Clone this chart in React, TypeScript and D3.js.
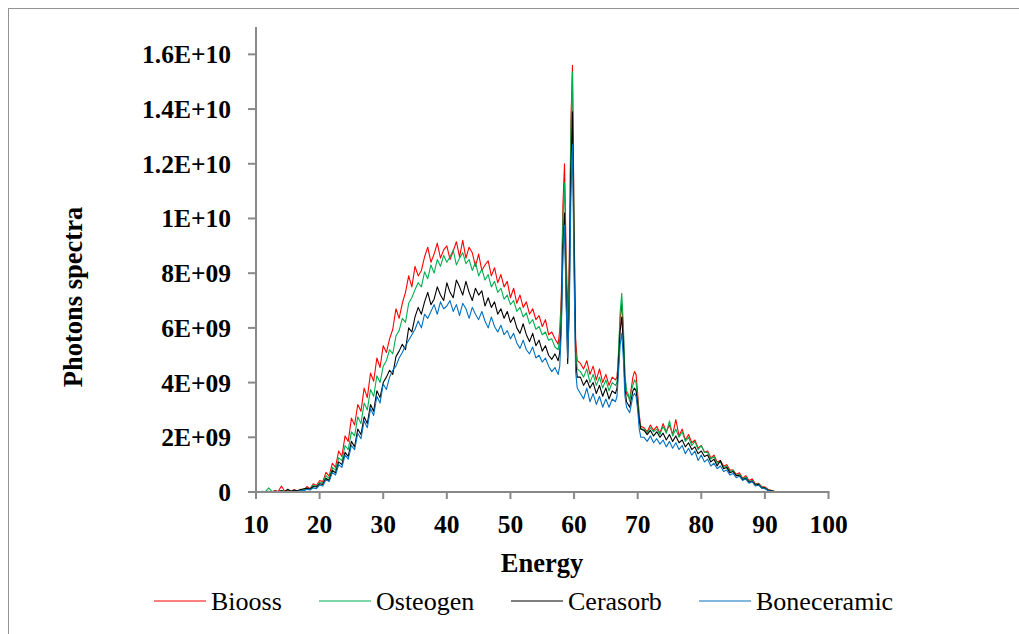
import * as d3 from "d3";

// Energy grid (keV); finer steps around the characteristic peaks
const ENERGY = [
  10, 10.5, 11, 11.5, 12, 12.5, 13, 13.5, 14, 14.5,
  15, 15.5, 16, 16.5, 17, 17.5, 18, 18.5, 19, 19.5,
  20, 20.5, 21, 21.5, 22, 22.5, 23, 23.5, 24, 24.5,
  25, 25.5, 26, 26.5, 27, 27.5, 28, 28.5, 29, 29.5,
  30, 30.5, 31, 31.5, 32, 32.5, 33, 33.5, 34, 34.5,
  35, 35.5, 36, 36.5, 37, 37.5, 38, 38.5, 39, 39.5,
  40, 40.5, 41, 41.5, 42, 42.5, 43, 43.5, 44, 44.5,
  45, 45.5, 46, 46.5, 47, 47.5, 48, 48.5, 49, 49.5,
  50, 50.5, 51, 51.5, 52, 52.5, 53, 53.5, 54, 54.5,
  55, 55.5, 56, 56.5, 57, 57.5,
  57.75, 58, 58.25, 58.5, 58.75, 59, 59.25, 59.5, 59.75, 60, 60.25, 60.5,
  61, 61.5, 62, 62.5, 63, 63.5, 64, 64.5, 65, 65.5, 66, 66.5,
  66.75, 67, 67.25, 67.5, 67.75, 68, 68.25, 68.5, 68.75, 69, 69.25, 69.5, 69.75, 70, 70.25, 70.5,
  71, 71.5, 72, 72.5, 73, 73.5, 74, 74.5, 75, 75.5,
  76, 76.5, 77, 77.5, 78, 78.5, 79, 79.5, 80, 80.5,
  81, 81.5, 82, 82.5, 83, 83.5, 84, 84.5, 85, 85.5,
  86, 86.5, 87, 87.5, 88, 88.5, 89, 89.5, 90, 90.5,
  91, 91.5, 92, 92.5, 93, 93.5, 94, 94.5, 95, 95.5,
  96, 96.5, 97, 97.5, 98, 98.5, 99, 99.5, 100,
];

// photon counts in units of 1E+09
const BIOOSS = [
  0, 0.01, 0.02, 0, 0.03, 0.01, 0.05, 0.02, 0.22, 0.03,
  0.05, 0.02, 0.09, 0.04, 0.1, 0.07, 0.2, 0.12, 0.3, 0.24,
  0.42, 0.38, 0.72, 0.58, 1.05, 0.9, 1.5, 1.3, 2.05, 1.85,
  2.7, 2.45, 3.2, 2.95, 3.8, 3.45, 4.35, 4.05, 4.9, 4.55,
  5.35, 5.1, 5.6, 5.95, 6.7, 6.35, 6.9, 7.3, 7.9, 7.5,
  8.25, 7.9, 8.1, 8.6, 8.95, 8.4, 8.7, 9.1, 8.55, 8.85,
  9.0, 8.5, 8.8, 9.15, 8.6, 9.2, 8.55, 8.95, 8.75, 8.25,
  8.7, 8.1, 8.3, 8.45, 7.9, 8.2, 7.65, 7.95, 7.5, 7.7,
  7.1, 7.45, 6.9, 7.2, 6.75, 6.95, 6.5, 6.7, 6.3, 6.45,
  6.05, 6.3, 5.75, 5.85, 5.6, 5.4,
  5.9, 7.2, 10.5, 12.0, 8.8, 6.5, 8.5, 13.5, 15.6, 10.0, 5.6, 4.8,
  4.7, 4.5, 4.8, 4.3, 4.6, 4.1, 4.5, 4.0, 4.3, 3.9, 4.2, 4.1,
  4.2, 5.0, 6.3, 6.9, 5.8, 4.2, 3.6, 3.5, 3.4, 3.8, 4.2, 4.4, 4.3, 3.6, 2.8, 2.4,
  2.35, 2.2, 2.45, 2.25, 2.4, 2.15, 2.5, 2.2, 2.45, 2.1,
  2.65, 2.05, 2.3, 1.9, 2.1, 1.8, 1.9, 1.6, 1.7, 1.45,
  1.5, 1.25, 1.35, 1.1, 1.15, 0.95, 1.0, 0.8, 0.8, 0.65,
  0.7, 0.5, 0.6, 0.42, 0.48, 0.3, 0.32, 0.2, 0.18, 0.1,
  0.06, 0.03, 0.02, 0.01, 0.01, 0, 0.01, 0, 0.02, 0,
  0.01, 0, 0.02, 0, 0.01, 0, 0.01, 0, 0,
];

const OSTEOGEN = [
  0, 0.01, 0.03, 0.01, 0.15, 0.02, 0.03, 0.01, 0.05, 0.02,
  0.04, 0.03, 0.06, 0.04, 0.09, 0.06, 0.15, 0.11, 0.25, 0.2,
  0.35, 0.33, 0.6, 0.5, 0.9, 0.8, 1.25, 1.15, 1.7, 1.55,
  2.2, 2.05, 2.75, 2.5, 3.25, 3.0, 3.75, 3.5, 4.25, 4.0,
  4.6, 4.8, 5.2, 5.05, 5.7, 5.9, 6.35, 6.2, 6.9, 7.1,
  7.4, 7.65, 7.5, 8.05, 7.8, 8.3, 8.0, 8.5, 8.25, 8.65,
  8.4, 8.6, 8.85, 8.3, 8.55, 8.75, 8.35, 8.5, 8.1, 8.4,
  7.9, 8.15, 7.75, 7.95, 7.5, 7.7, 7.3, 7.45, 7.05, 7.2,
  6.85, 7.0, 6.6, 6.75, 6.4, 6.55, 6.15, 6.3, 5.95, 6.05,
  5.75, 5.85, 5.55, 5.6, 5.3, 5.2,
  5.6, 6.9, 10.0, 11.3, 8.2, 5.6, 8.0, 13.2, 15.35, 9.6, 5.2, 4.5,
  4.4, 4.2, 4.5, 4.0, 4.3, 3.9, 4.2, 3.8, 4.1, 3.7, 4.0, 3.9,
  4.0, 5.2, 6.6, 7.26, 6.1, 4.3, 3.7, 3.6, 3.3, 3.7, 3.9, 4.1, 4.0, 3.4, 2.7, 2.3,
  2.3, 2.15, 2.35, 2.2, 2.3, 2.1, 2.4, 2.15, 2.6, 2.05,
  2.3, 2.0, 2.2, 1.85, 2.0, 1.7, 1.85, 1.55, 1.7, 1.45,
  1.45, 1.2, 1.3, 1.05, 1.1, 0.9, 0.95, 0.75, 0.8, 0.6,
  0.65, 0.48, 0.55, 0.38, 0.42, 0.28, 0.3, 0.18, 0.15, 0.08,
  0.05, 0.02, 0.02, 0, 0.01, 0, 0.01, 0.02, 0, 0,
  0.01, 0, 0.01, 0.02, 0, 0.01, 0, 0, 0,
];

const CERASORB = [
  0, 0.01, 0.01, 0, 0.02, 0.01, 0.03, 0.02, 0.04, 0.02,
  0.1, 0.03, 0.06, 0.04, 0.08, 0.12, 0.14, 0.1, 0.2, 0.18,
  0.3, 0.28, 0.5, 0.42, 0.8, 0.7, 1.1, 1.0, 1.45, 1.3,
  1.85, 1.65, 2.3, 2.1, 2.75, 2.5, 3.2, 2.95, 3.7, 3.45,
  4.0, 4.2, 4.45, 4.3, 4.95, 5.15, 5.4, 5.2, 6.0, 5.85,
  6.4, 6.75, 6.5, 6.95, 7.3, 6.85, 7.05, 7.5, 7.2, 7.0,
  7.65, 7.3, 7.1, 7.75, 7.5, 7.2, 7.7, 7.3, 7.0, 7.45,
  7.2, 7.35, 6.8, 7.1, 6.75, 6.95, 6.5, 6.7, 6.35, 6.6,
  6.2, 6.4, 6.0, 5.8, 6.15, 5.75, 5.5, 5.8, 5.35, 5.55,
  5.15, 5.35, 5.0, 4.85, 5.05, 4.8,
  5.1, 6.2, 9.0, 10.2, 7.3, 4.7, 7.0, 11.8, 13.9, 8.8, 4.8, 4.2,
  4.2, 3.9, 4.1, 3.8, 4.0, 3.6, 3.9, 3.5, 3.8, 3.4, 3.7, 3.6,
  3.8, 4.7, 5.9, 6.4, 5.4, 3.8, 3.3, 3.2, 3.1, 3.4, 3.7, 3.8, 3.7, 3.2, 2.6, 2.3,
  2.25, 2.1, 2.25, 2.05, 2.2, 2.0, 2.15, 1.9, 2.1, 1.85,
  2.05, 1.8, 1.9, 1.65, 1.8, 1.55, 1.65, 1.4, 1.5, 1.3,
  1.35, 1.1, 1.2, 0.95, 1.15, 0.85, 0.9, 0.7, 0.75, 0.6,
  0.6, 0.45, 0.5, 0.35, 0.4, 0.25, 0.28, 0.15, 0.14, 0.06,
  0.04, 0.02, 0.01, 0, 0.01, 0, 0, 0.01, 0, 0,
  0, 0.01, 0, 0, 0.01, 0, 0, 0.01, 0,
];

const BONECERAMIC = [
  0, 0, 0.01, 0, 0.02, 0.01, 0.02, 0, 0.03, 0.01,
  0.02, 0.01, 0.03, 0.02, 0.05, 0.04, 0.1, 0.07, 0.15, 0.12,
  0.25, 0.22, 0.45, 0.38, 0.72, 0.62, 1.0, 0.9, 1.35, 1.2,
  1.7, 1.55, 2.15, 1.95, 2.6, 2.35, 3.05, 2.8, 3.5, 3.25,
  3.95, 3.75, 4.2, 4.45, 4.6, 4.9, 5.1, 5.35, 5.55, 5.75,
  5.95, 6.25, 6.0, 6.5, 6.35, 6.6, 6.85, 6.5, 6.95, 6.7,
  6.8, 7.0, 6.6, 6.85, 6.45, 6.9, 6.7, 6.35, 6.75, 6.5,
  6.3, 6.6, 6.25, 6.0, 6.4, 6.05, 5.85, 6.1, 5.75, 5.9,
  5.6, 5.8, 5.45, 5.25, 5.55, 5.2, 5.05, 5.3, 4.9, 5.0,
  4.75, 4.9, 4.6, 4.4, 4.55, 4.3,
  4.6, 5.9, 8.6, 9.75, 6.9, 4.9, 6.6, 10.8, 12.7, 8.0, 4.4, 3.8,
  3.6, 3.4, 3.8, 3.3, 3.6, 3.2, 3.5, 3.1, 3.4, 3.1, 3.4, 3.3,
  3.5, 4.4, 5.4, 5.8, 4.9, 3.5, 3.1, 3.0, 2.9, 3.2, 3.5, 3.6, 3.5, 3.0, 2.3, 2.0,
  2.0, 1.85, 2.05, 1.8, 1.95, 1.75, 1.9, 1.65, 1.85, 1.6,
  1.8, 1.55, 1.7, 1.4, 1.6, 1.35, 1.5, 1.15, 1.35, 1.1,
  1.2, 0.95, 1.05, 0.85, 0.95, 0.75, 0.8, 0.62, 0.68, 0.52,
  0.58, 0.42, 0.48, 0.32, 0.38, 0.22, 0.25, 0.14, 0.12, 0.05,
  0.03, 0.01, 0.01, 0, 0, 0.01, 0, 0, 0.01, 0,
  0, 0, 0.01, 0, 0, 0, 0.01, 0, 0,
];

const SERIES_NAMES = ["Biooss", "Osteogen", "Cerasorb", "Boneceramic"];
const SERIES_VALUES = [BIOOSS, OSTEOGEN, CERASORB, BONECERAMIC];
const SERIES_COLORS = ["#ff0000", "#00b050", "#000000", "#0070c0"];

const X_TICKS = [10, 20, 30, 40, 50, 60, 70, 80, 90, 100];
const Y_TICKS = [0, 2, 4, 6, 8, 10, 12, 14, 16];
const Y_TICK_LABELS = ["0", "2E+09", "4E+09", "6E+09", "8E+09", "1E+10", "1.2E+10", "1.4E+10", "1.6E+10"];

const W = 1019;
const H = 634;
const FONT = "'Liberation Serif', 'Times New Roman', serif";
const AXIS_GREY = "#898989";

// legend item x positions (line start)
const LEGEND_X = [154, 319, 511, 699];

export default function App() {
  const x = d3.scaleLinear().domain([10, 100]).range([256, 828.5]);
  const y = d3.scaleLinear().domain([0, 17]).range([492, 27]);

  const line = d3
    .line<number>()
    .x((_, i) => x(ENERGY[i]))
    .y((v) => y(v));

  return (
    <svg
      width={W}
      height={H}
      style={{ position: "absolute", left: 0, top: 0, background: "#fff" }}
      fontFamily={FONT}
    >
      {/* chart frame */}
      <rect x={8.5} y={8.5} width={1100} height={700} fill="#fff" stroke="#939393" strokeWidth={1} />

      {/* series */}
      {SERIES_VALUES.map((vals, k) => (
        <path
          key={SERIES_NAMES[k]}
          d={line(vals.slice(0, ENERGY.length)) ?? ""}
          fill="none"
          stroke={SERIES_COLORS[k]}
          strokeWidth={1.1}
          strokeLinejoin="round"
        />
      ))}

      {/* y axis */}
      <line x1={256} x2={256} y1={y(17)} y2={y(0) + 6} stroke={AXIS_GREY} strokeWidth={2} />
      {Y_TICKS.map((t, i) => (
        <g key={t}>
          <line x1={248} x2={256} y1={y(t)} y2={y(t)} stroke={AXIS_GREY} strokeWidth={2} />
          <text
            x={231}
            y={y(t) + 9}
            textAnchor="end"
            fontSize={25.5}
            fontWeight="bold"
            fill="#000"
          >
            {Y_TICK_LABELS[i]}
          </text>
        </g>
      ))}

      {/* x axis */}
      <line x1={255} x2={x(100) + 1} y1={y(0)} y2={y(0)} stroke={AXIS_GREY} strokeWidth={2} />
      {X_TICKS.map((t) => (
        <g key={t}>
          <line x1={x(t)} x2={x(t)} y1={y(0)} y2={y(0) + 7} stroke={AXIS_GREY} strokeWidth={2} />
          <text x={x(t)} y={533} textAnchor="middle" fontSize={25.5} fontWeight="bold" fill="#000">
            {t}
          </text>
        </g>
      ))}

      {/* axis titles */}
      <text x={542} y={572} textAnchor="middle" fontSize={26.5} fontWeight="bold" fill="#000">
        Energy
      </text>
      <text
        transform="translate(82,297) rotate(-90)"
        textAnchor="middle"
        fontSize={26.5}
        fontWeight="bold"
        fill="#000"
      >
        Photons spectra
      </text>

      {/* legend */}
      {SERIES_NAMES.map((name, k) => (
        <g key={name}>
          <line
            x1={LEGEND_X[k]}
            x2={LEGEND_X[k] + 52}
            y1={601}
            y2={601}
            stroke={SERIES_COLORS[k]}
            strokeWidth={1.1}
          />
          <text x={LEGEND_X[k] + 57} y={610} fontSize={26} fill="#000">
            {name}
          </text>
        </g>
      ))}
    </svg>
  );
}
